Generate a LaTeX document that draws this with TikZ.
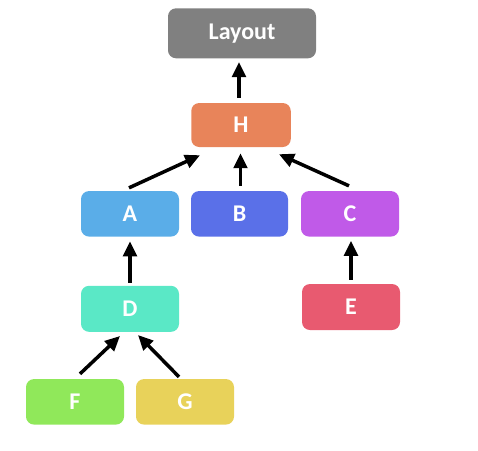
\documentclass[tikz,border=0pt]{standalone}
\usepackage{fontspec}
\setmainfont{Carlito}
\usetikzlibrary{calc,arrows.meta}
\definecolor{cLayout}{HTML}{808080}
\definecolor{cH}{HTML}{E8845A}
\definecolor{cA}{HTML}{5AADE8}
\definecolor{cB}{HTML}{5A70E8}
\definecolor{cC}{HTML}{C05AE8}
\definecolor{cD}{HTML}{5AE8C6}
\definecolor{cE}{HTML}{E85A70}
\definecolor{cF}{HTML}{90E85A}
\definecolor{cG}{HTML}{E8D25A}
\tikzset{
  box/.style={rounded corners=8pt, inner sep=0pt, minimum width=98pt, minimum height=45.5pt,
    text=white, font=\fontsize{24}{28}\selectfont\bfseries},
  arr/.style={line width=3.5pt, -{Triangle[length=15pt,width=13.5pt]}}
}
\begin{document}
\begin{tikzpicture}[x=1pt,y=-1pt]
\useasboundingbox (0,0) rectangle (478,450);
\node[box, fill=cLayout, minimum width=148pt, minimum height=50pt] (L) at (242,33.3) {Layout};
\node[box, fill=cH, minimum width=99.5pt, minimum height=44pt] (H) at (241,125) {H};
\node[box, fill=cA] (A) at (130,213.8) {A};
\node[box, fill=cB, minimum width=97pt] (B) at (239.5,213.8) {B};
\node[box, fill=cC] (C) at (350,213.8) {C};
\node[box, fill=cD, minimum height=46pt] (D) at (130,308.8) {D};
\node[box, fill=cE, minimum height=46pt] (E) at (351,307) {E};
\node[box, fill=cF] (F) at (75,401.8) {F};
\node[box, fill=cG] (G) at (185,401.8) {G};
\draw[arr] ($(H.north)+(-2,-5)$) -- ($(L.south)+(-3,3.5)$);
\draw[arr] ($(A.north)+(-1,-3)$) -- ($(H.south west)+(9,8)$);
\draw[arr] ($(B.north)+(1,-5)$) -- ($(H.south)+(-0.5,6)$);
\draw[arr] ($(C.north)+(-1,-5)$) -- ($(H.south east)+(-12,7)$);
\draw[arr] ($(D.north)+(0,-3)$) -- ($(A.south)+(0,4.5)$);
\draw[arr] ($(E.north)+(0,-4)$) -- ($(C.south)+(1,4)$);
\draw[arr] ($(F.north)+(5,-5)$) -- ($(D.south)+(-10,4)$);
\draw[arr] ($(G.north)+(-6,-2)$) -- ($(D.south)+(8,3)$);
\end{tikzpicture}
\end{document}
